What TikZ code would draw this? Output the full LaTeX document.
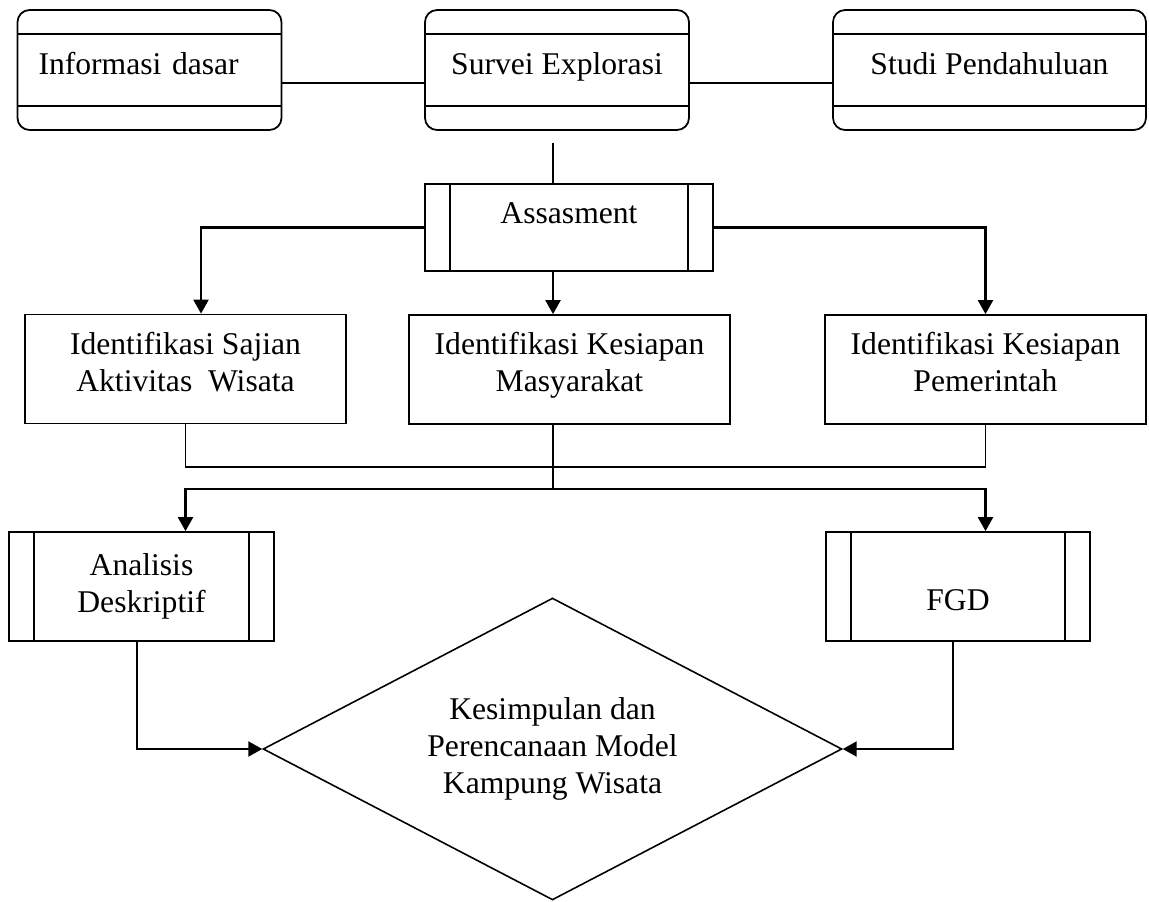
\documentclass[tikz,border=0pt]{standalone}
\usepackage{fontspec}
\setmainfont{Liberation Serif}
\usetikzlibrary{arrows.meta,shapes.geometric}

\tikzset{
  topbox/.style={draw, line width=1pt, rounded corners=0.24cm,
    minimum width=5.28cm, minimum height=2.4cm, inner sep=0pt,
    text height=0.68em, text depth=0.22em,
    path picture={\draw[line width=1pt]
      ([yshift=-0.48cm]path picture bounding box.north west) -- ([yshift=-0.48cm]path picture bounding box.north east)
      ([yshift=0.48cm]path picture bounding box.south west) -- ([yshift=0.48cm]path picture bounding box.south east);}},
  procbox/.style={draw, line width=1pt, minimum width=5.28cm, minimum height=2.18cm,
    inner sep=0pt, align=center,
    path picture={\draw[line width=1pt]
      ([xshift=0.5cm]path picture bounding box.north west) -- ([xshift=0.5cm]path picture bounding box.south west)
      ([xshift=-0.5cm]path picture bounding box.north east) -- ([xshift=-0.5cm]path picture bounding box.south east);}},
  idbox/.style={draw, line width=1pt, minimum width=6.42cm, minimum height=2.18cm,
    inner sep=0pt, align=center, text depth=0.3cm},
  link/.style={line width=0.8pt},
  flow/.style={line width=1.3pt, -{Triangle[length=0.28cm,width=0.3cm]}},
}

\begin{document}
\begin{tikzpicture}[x=0.02cm,y=-0.02cm,font=\fontsize{18}{21}\selectfont]
  \useasboundingbox (0,0) rectangle (1149,902);
  % top row
  \node[topbox, text width=4.44cm, inner xsep=0.42cm, align=left] (inf) at (149.5,70) {Informasi dasar};
  \node[topbox] (sur) at (557,70) {Survei Explorasi};
  \node[topbox, minimum width=6.26cm] (stu) at (989.5,70) {Studi Pendahuluan};
  % assessment
  \node[procbox, minimum width=5.76cm, minimum height=1.74cm,
    text height=0.43cm, text depth=0.57cm] (ass) at (569,227.5) {Assasment};
  % identification row
  \node[idbox] (saj) at (185.5,369) {Identifikasi Sajian\\Aktivitas\ \ Wisata};
  \node[idbox] (mas) at (569.5,369.5) {Identifikasi Kesiapan\\Masyarakat};
  \node[idbox] (pem) at (985.5,369.5) {Identifikasi Kesiapan\\Pemerintah};
  % analysis
  \node[procbox, minimum width=5.3cm] (ana) at (141.5,586.5) {Analisis\\Deskriptif};
  \node[procbox, text height=0.94cm, text depth=0pt] (fgd) at (958,586.5) {FGD};
  \node[draw, diamond, line width=0.9pt, aspect=1.92, minimum width=11.58cm,
    minimum height=6.04cm, inner sep=0pt, align=center] (kes) at (552.5,749)
    {Kesimpulan dan\\Perencanaan Model\\Kampung Wisata};
  \coordinate (spine) at (553,489);
  \coordinate (bus) at (553,467);
  % connectors
  \draw[link] ([yshift=-0.26cm]inf.east) -- ([yshift=-0.26cm]sur.west);
  \draw[link] ([yshift=-0.26cm]sur.east) -- ([yshift=-0.26cm]stu.west);
  \draw[link, shorten <=0.24cm] (spine |- sur.south) -- (spine |- ass.north);
  \draw[flow] (ass.west) -| ([xshift=0.31cm]saj.north);
  \draw[flow] (spine |- ass.south) -- (spine |- mas.north);
  \draw[flow] (ass.east) -| (pem.north);
  \draw[link] (saj.south) |- (bus) -| (pem.south);
  \draw[link] (spine |- mas.south) -- (spine);
  \draw[flow] (spine) -| (saj.south |- ana.north);
  \draw[flow] (spine) -| (pem.south |- fgd.north);
  \draw[flow] ([xshift=-0.09cm]ana.south) |- (kes.west);
  \draw[flow] ([xshift=-0.1cm]fgd.south) |- (kes.east);
\end{tikzpicture}
\end{document}
